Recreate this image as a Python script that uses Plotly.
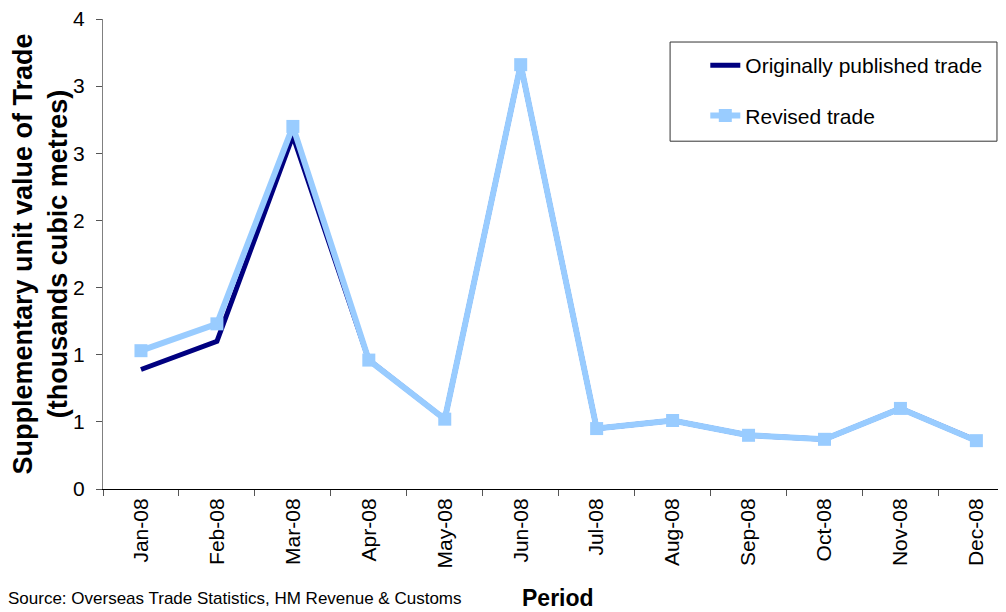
import plotly.graph_objects as go

months = ['Jan-08', 'Feb-08', 'Mar-08', 'Apr-08', 'May-08', 'Jun-08',
          'Jul-08', 'Aug-08', 'Sep-08', 'Oct-08', 'Nov-08', 'Dec-08']

original = [0.89, 1.10, 2.63, 0.96, 0.52, 3.16, 0.45, 0.51, 0.40, 0.37, 0.60, 0.36]
revised = [1.03, 1.23, 2.70, 0.96, 0.52, 3.16, 0.45, 0.51, 0.40, 0.37, 0.60, 0.36]

ytick_vals = [0, 0.5, 1, 1.5, 2, 2.5, 3, 3.5]
ytick_text = ['0', '1', '1', '2', '2', '3', '3', '4']

FONT = 'Arial, Liberation Sans, sans-serif'

fig = go.Figure()

fig.add_scatter(x=months, y=original,
                name='Originally published trade',
                mode='lines', legendgroup='a',
                line=dict(color='#000080', width=5))

fig.add_scatter(x=months, y=revised,
                name='Revised trade',
                mode='lines+markers', legendgroup='b',
                line=dict(color='#99CCFF', width=6),
                marker=dict(symbol='square', size=13, color='#99CCFF'))

# page body has an 8px margin, so the figure is a bit smaller than the window
fig.layout.width = 998
fig.layout.height = 604
fig.layout.margin = dict(l=95, r=0, t=11, b=123)
fig.layout.plot_bgcolor = 'white'
fig.layout.paper_bgcolor = 'white'
fig.layout.font = dict(family=FONT, size=20, color='black')

fig.layout.xaxis = dict(
    type='category', range=[-0.5, 11.39],
    showline=True, linecolor='black', linewidth=1,
    ticks='outside', tickson='boundaries', ticklen=6, tickcolor='#555555',
    tickangle=-90, showgrid=False, zeroline=False,
    tickfont=dict(size=21),
)
fig.layout.yaxis = dict(
    range=[0, 3.5], tickmode='array', tickvals=ytick_vals, ticktext=ytick_text,
    showline=True, linecolor='#808080', linewidth=1,
    ticks='outside', ticklen=6, tickcolor='#555555',
    ticklabelstandoff=7, ticklabeloverflow='allow',
    showgrid=False, zeroline=False,
    tickfont=dict(size=21),
    title=dict(text='<b>Supplementary unit value of Trade<br>(thousands cubic metres)</b>',
               font=dict(size=27), standoff=4),
)

fig.layout.legend = dict(
    x=0.667, y=0.9447, xanchor='left', yanchor='top',
    borderwidth=0, bgcolor='rgba(0,0,0,0)',
    font=dict(size=21), tracegroupgap=20, traceorder='grouped',
)

# legend frame
fig.add_shape(type='rect', xref='paper', yref='paper',
              x0=0.628, x1=0.990, y0=0.740, y1=0.951,
              line=dict(color='#333333', width=1))

fig.add_annotation(text='<b>Period</b>', xref='paper', yref='paper',
                   x=0.504, y=-0.232, showarrow=False,
                   font=dict(size=23), xanchor='center', yanchor='middle')
fig.add_annotation(text='Source: Overseas Trade Statistics, HM Revenue & Customs',
                   xref='paper', yref='paper', x=-0.107, y=-0.232,
                   showarrow=False, font=dict(size=17),
                   xanchor='left', yanchor='middle')

fig.write_html("out.html")
